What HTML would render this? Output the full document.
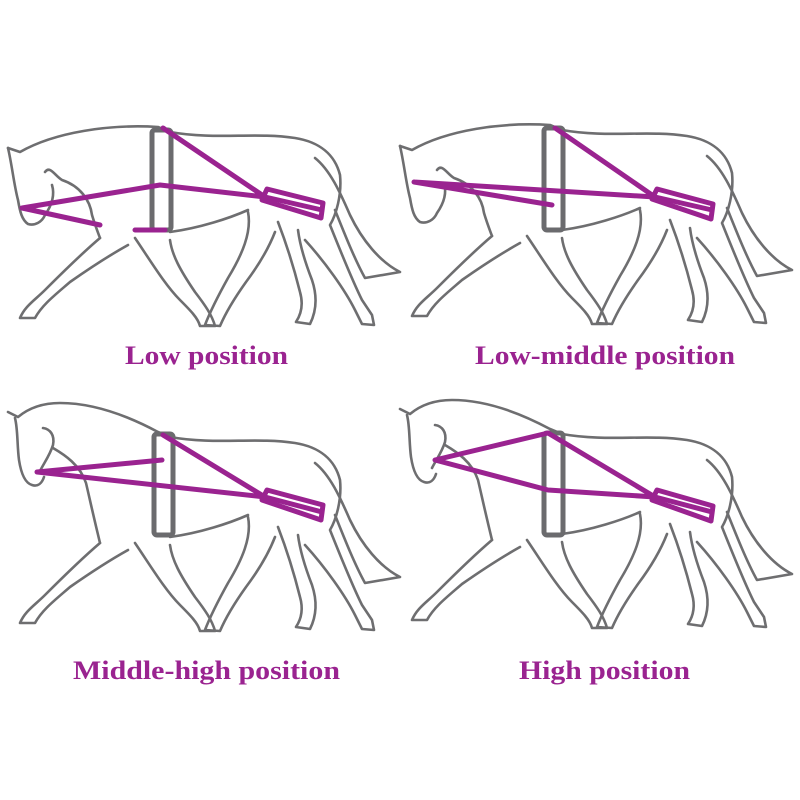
<!DOCTYPE html>
<html><head><meta charset="utf-8"><style>
html,body{margin:0;padding:0;background:#fff;width:800px;height:800px;overflow:hidden}
svg{display:block}
.h{fill:none;stroke:#6e6e70;stroke-width:2.6;stroke-linecap:round;stroke-linejoin:round}
.g{fill:none;stroke:#6b6b6e;stroke-width:5;stroke-linejoin:round}
.p{fill:none;stroke:#9a2390;stroke-width:5;stroke-linecap:round;stroke-linejoin:round}
.t{font-family:"Liberation Serif",serif;font-weight:bold;font-size:26px;fill:#9a2390}
</style></head><body>
<svg width="800" height="800" viewBox="0 0 800 800">
<defs>
<g id="body">
<path class="h" d="M170,132 C215,140 255,132 295,138 C320,142 335,155 340,175 C342,195 336,215 330,225 C340,250 352,280 362,300 L372,315 L374,325 L362,324 L355,310 C345,290 325,262 305,240"/>
<path class="h" d="M100,238 C80,255 60,275 45,290 C35,300 25,306 20,318 L35,318 C42,305 55,295 70,282 C90,268 110,255 128,245"/>
<path class="h" d="M135,238 C150,260 165,285 180,300 C190,310 198,318 200,326 L215,326 C212,315 205,305 195,292 C180,270 172,255 170,240"/>
<path class="h" d="M170,232 C200,228 230,218 248,210"/>
<path class="h" d="M248,212 C252,232 242,255 228,278 C218,296 210,312 205,325 L220,326 C226,312 236,296 246,282 C258,266 268,250 275,232"/>
<path class="h" d="M278,222 C288,248 295,272 300,292 C304,306 300,316 296,322 L310,324 C316,312 318,298 312,280 C305,262 300,246 298,230"/>
<path class="h" d="M315,158 C330,170 340,192 350,215 C362,240 380,262 400,272 L365,278 C355,260 345,235 335,210"/>
</g>
<g id="headA">
<path class="h" d="M8,148 L20,152 C55,132 110,124 158,127 L170,132"/>
<path class="h" d="M8,148 C12,165 14,185 18,200 C20,212 22,220 28,224 C35,226 42,222 45,215 C52,205 55,195 52,185"/>
<path class="h" d="M45,172 C50,165 55,176 62,180 C80,186 90,200 92,215 C95,225 97,230 100,238"/>
</g>
<g id="headB">
<path class="h" d="M8,107 L18,112 C30,102 45,98 60,98 C95,98 130,112 158,127 L170,132"/>
<path class="h" d="M15,113 C18,125 17,140 19,155 C21,168 25,178 32,180 C38,182 42,178 44,172"/>
<path class="h" d="M43,123 C50,124 55,130 53,140 C50,150 44,158 40,166"/>
<path class="h" d="M53,143 C65,150 80,160 86,178 C90,195 92,205 100,238"/>
</g>
</defs>

<!-- horse 1 -->
<use href="#body"/><use href="#headA"/>
<rect class="g" x="152" y="130" width="19" height="100" rx="3"/>
<path class="p" d="M22,208 L160,185 L265,197 M22,208 L100,225 M135,230 L165,230 M163,128 L265,197 L322,210"/>
<path class="p" d="M267,189 L323,203 L321,218 L262,200 Z"/>

<!-- horse 2 -->
<g transform="translate(392,-2)"><use href="#body"/><use href="#headA"/></g>
<rect class="g" x="544" y="128" width="19" height="102" rx="3"/>
<path class="p" d="M414,182 L552,205 M414,182 L655,197 M555,128 L655,197 L712,210"/>
<path class="p" d="M657,189 L713,204 L711,219 L652,199 Z"/>

<!-- horse 3 -->
<g transform="translate(0,305)"><use href="#body"/><use href="#headB"/></g>
<rect class="g" x="154" y="434" width="19" height="101" rx="3"/>
<path class="p" d="M37,472 L162,460 M37,472 L265,497 L322,512 M163,435 L265,497"/>
<path class="p" d="M267,490 L323,505 L321,520 L262,500 Z"/>

<!-- horse 4 -->
<g transform="translate(392,302)"><use href="#body"/><use href="#headB"/></g>
<rect class="g" x="544" y="433" width="19" height="102" rx="3"/>
<path class="p" d="M435,460 L548,433 L655,497 L712,512 M435,460 L548,490 L655,497"/>
<path class="p" d="M657,490 L713,506 L711,521 L652,500 Z"/>

<text class="t" x="125" y="364" textLength="163" lengthAdjust="spacingAndGlyphs">Low position</text>
<text class="t" x="475" y="364" textLength="260" lengthAdjust="spacingAndGlyphs">Low-middle position</text>
<text class="t" x="73" y="679" textLength="267" lengthAdjust="spacingAndGlyphs">Middle-high position</text>
<text class="t" x="519" y="679" textLength="171" lengthAdjust="spacingAndGlyphs">High position</text>
</svg>
</body></html>
